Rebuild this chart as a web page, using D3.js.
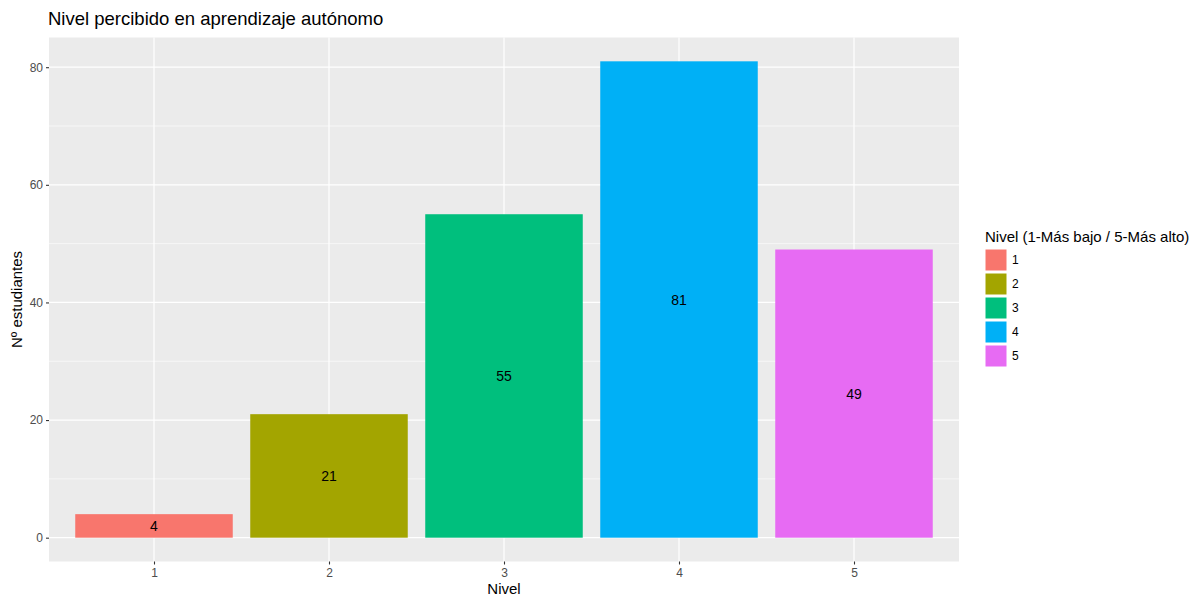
<!DOCTYPE html>
<html><head><meta charset="utf-8">
<script src="https://cdn.jsdelivr.net/npm/d3@7"></script>
<style>body{margin:0;background:#fff;font-family:"Liberation Sans",Arial,sans-serif;}</style>
</head><body>
<svg id="c" width="1199" height="598"></svg>
<script>
const categories = ["1","2","3","4","5"];
const values = [4, 21, 55, 81, 49];
const colors = ["#F8766D","#A3A500","#00BF7D","#00B0F6","#E76BF3"];
const yTicks = [0,20,40,60,80];
const title = "Nivel percibido en aprendizaje autónomo";
const xTitle = "Nivel";
const yTitle = "Nº estudiantes";
const legendTitle = "Nivel (1-Más bajo / 5-Más alto)";

const svg = d3.select("#c");
const P = {l:49, r:959, t:37.5, b:561.5};
svg.append("rect").attr("width",1199).attr("height",598).attr("fill","#fff");

const x = d3.scaleLinear().domain([0.4, 5.6]).range([P.l, P.r]);
const y = d3.scaleLinear().domain([-4.05, 85.05]).range([P.b, P.t]);

svg.append("rect").attr("x",P.l).attr("y",P.t).attr("width",P.r-P.l).attr("height",P.b-P.t).attr("fill","#EBEBEB");

const g = svg.append("g");
[10,30,50,70].forEach(v=>{
  g.append("line").attr("x1",P.l).attr("x2",P.r).attr("y1",y(v)).attr("y2",y(v)).attr("stroke","#fff").attr("stroke-width",0.6);
});
yTicks.forEach(v=>{
  g.append("line").attr("x1",P.l).attr("x2",P.r).attr("y1",y(v)).attr("y2",y(v)).attr("stroke","#fff").attr("stroke-width",1.2);
});
categories.forEach((c,i)=>{
  g.append("line").attr("x1",x(i+1)).attr("x2",x(i+1)).attr("y1",P.t).attr("y2",P.b).attr("stroke","#fff").attr("stroke-width",1.2);
});

categories.forEach((c,i)=>{
  svg.append("rect").attr("x",x(i+1-0.45)).attr("width",x(i+1.45)-x(i+0.55))
    .attr("y",y(values[i])).attr("height",y(0)-y(values[i])).attr("fill",colors[i]);
  svg.append("text").attr("x",x(i+1)).attr("y",y(values[i]/2)).attr("dy","0.36em")
    .attr("text-anchor","middle").attr("font-size",14).attr("fill","#000").text(values[i]);
});

const yAxis = d3.axisLeft(y).tickValues(yTicks).tickSize(3).tickPadding(3);
const ya = svg.append("g").attr("transform",`translate(${P.l},0)`).call(yAxis);
const xAxis = d3.axisBottom(x).tickValues([1,2,3,4,5]).tickFormat((d,i)=>categories[i]).tickSize(3).tickPadding(4);
const xa = svg.append("g").attr("transform",`translate(0,${P.b})`).call(xAxis);
[ya,xa].forEach(a=>{
  a.select(".domain").remove();
  a.selectAll(".tick line").attr("stroke","#333").attr("stroke-width",1.1);
  a.selectAll(".tick text").attr("fill","#4D4D4D").attr("font-size",12).attr("font-family","Liberation Sans, Arial, sans-serif");
});

svg.append("text").attr("x",48).attr("y",25).attr("font-size",18.5).attr("fill","#000").text(title);
svg.append("text").attr("x",(P.l+P.r)/2).attr("y",594).attr("text-anchor","middle").attr("font-size",15).text(xTitle);
svg.append("text").attr("transform",`translate(22,${(P.t+P.b)/2}) rotate(-90)`).attr("text-anchor","middle").attr("font-size",15).text(yTitle);

const L = svg.append("g");
L.append("text").attr("x",985).attr("y",242).attr("font-size",15).text(legendTitle);
categories.forEach((c,i)=>{
  L.append("rect").attr("x",985).attr("y",249+i*24).attr("width",22).attr("height",22).attr("fill",colors[i]).attr("stroke","#fff").attr("stroke-width",1);
  L.append("text").attr("x",1012).attr("y",260+i*24).attr("dy","0.36em").attr("font-size",12).text(c);
});
</script>
</body></html>
